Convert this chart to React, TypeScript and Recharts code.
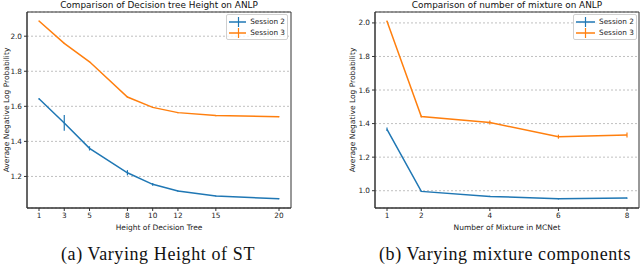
import React from "react";
import {
  LineChart,
  Line,
  XAxis,
  YAxis,
  CartesianGrid,
  ErrorBar,
  ReferenceArea,
  Legend,
  Label,
} from "recharts";

// (a) tree height panel
const heights = [1, 3, 5, 8, 10, 12, 15, 20];
const heightS2 = [1.643, 1.505, 1.36, 1.221, 1.155, 1.117, 1.088, 1.073];
const heightS2Err = [0.004, 0.045, 0.012, 0.015, 0.008, 0.004, 0.003, 0.003];
const heightS3 = [2.087, 1.959, 1.854, 1.653, 1.594, 1.564, 1.547, 1.541];
const heightS3Err = [0.003, 0.003, 0.003, 0.003, 0.003, 0.003, 0.003, 0.003];
const heightYTicks = [1.2, 1.4, 1.6, 1.8, 2.0];

// (b) mixture panel
const mixtures = [1, 2, 4, 6, 8];
const mixS2 = [1.366, 0.996, 0.966, 0.952, 0.956];
const mixS2Err = [0.01, 0.004, 0.004, 0.004, 0.004];
const mixS3 = [2.01, 1.442, 1.406, 1.322, 1.332];
const mixS3Err = [0.004, 0.006, 0.012, 0.012, 0.015];
const mixYTicks = [1.0, 1.2, 1.4, 1.6, 1.8, 2.0];

const seriesNames = ["Session 2", "Session 3"];

const BLUE = "#1f77b4";
const ORANGE = "#ff7f0e";
const SPINE = "#333";
const FONT = "'DejaVu Sans', sans-serif";
const SERIF = "'Liberation Serif', serif";

const heightData = heights.map((x, i) => ({
  x,
  s2: heightS2[i],
  e2: heightS2Err[i],
  s3: heightS3[i],
  e3: heightS3Err[i],
}));

const mixData = mixtures.map((x, i) => ({
  x,
  s2: mixS2[i],
  e2: mixS2Err[i],
  s3: mixS3[i],
  e3: mixS3Err[i],
}));

const LegendBox = () => (
  <div
    style={{
      border: "1px solid #d0d0d0",
      borderRadius: 2,
      background: "rgba(255,255,255,0.8)",
      padding: "1px 2px 1px 2px",
      fontFamily: FONT,
      fontSize: 7.3,
      color: "#222",
    }}
  >
    {seriesNames.map((name, i) => {
      const c = i === 0 ? BLUE : ORANGE;
      return (
        <div key={name} style={{ display: "flex", alignItems: "center", height: 11 }}>
          <svg width={19} height={10}>
            <line x1={0} y1={5} x2={19} y2={5} stroke={c} strokeWidth={1.5} />
            <line x1={9.5} y1={0} x2={9.5} y2={10} stroke={c} strokeWidth={1.2} />
          </svg>
          <span style={{ marginLeft: 4, whiteSpace: "nowrap" }}>{name}</span>
        </div>
      );
    })}
  </div>
);

type PanelProps = {
  data: any[];
  xDomain: [number, number];
  xTicks: number[];
  yDomain: [number, number];
  yTicks: number[];
  xLabel: string;
  marginLeft: number;
  marginRight: number;
  yWidth: number;
  yLabelX: number;
  legendLeft: number;
  legendWidth: number;
};

const Panel = (p: PanelProps) => {
  const tick = { fontSize: 7.3, fill: "#222", fontFamily: FONT };
  return (
    <LineChart
      width={320}
      height={264}
      data={p.data}
      margin={{ top: 12, right: p.marginRight, bottom: 26, left: p.marginLeft }}
    >
      <CartesianGrid vertical={false} stroke="#b0b0b0" strokeDasharray="2 2" strokeWidth={0.8} />
      <XAxis
        dataKey="x"
        type="number"
        domain={p.xDomain}
        ticks={p.xTicks}
        interval={0}
        allowDataOverflow
        tickSize={3}
        tick={tick}
        stroke={SPINE}
        height={30}
      >
        <Label
          value={p.xLabel}
          position="insideBottom"
          offset={8.5}
          style={{ fontSize: 7.5, fill: "#222", fontFamily: FONT }}
        />
      </XAxis>
      <YAxis
        type="number"
        domain={p.yDomain}
        ticks={p.yTicks}
        interval={0}
        allowDataOverflow
        tickSize={3}
        tick={tick}
        stroke={SPINE}
        width={p.yWidth}
        tickFormatter={(v: number) => v.toFixed(1)}
      >
        <Label
          content={(props: any) => {
            const vb = props.viewBox || {};
            const cy = vb.y + vb.height / 2;
            return (
              <text
                x={p.yLabelX}
                y={cy}
                transform={`rotate(-90 ${p.yLabelX} ${cy})`}
                textAnchor="middle"
                fontSize={7.5}
                fill="#222"
                fontFamily={FONT}
              >
                Average Negative Log Probability
              </text>
            );
          }}
        />
      </YAxis>
      <ReferenceArea
        x1={p.xDomain[0]}
        x2={p.xDomain[1]}
        y1={p.yDomain[0]}
        y2={p.yDomain[1]}
        fill="none"
        stroke={SPINE}
        strokeWidth={1}
        ifOverflow="visible"
      />
      <Line
        type="linear"
        dataKey="s2"
        name={seriesNames[0]}
        stroke={BLUE}
        strokeWidth={1.5}
        dot={false}
        isAnimationActive={false}
      >
        <ErrorBar dataKey="e2" direction="y" width={0} stroke={BLUE} strokeWidth={1.2} />
      </Line>
      <Line
        type="linear"
        dataKey="s3"
        name={seriesNames[1]}
        stroke={ORANGE}
        strokeWidth={1.5}
        dot={false}
        isAnimationActive={false}
      >
        <ErrorBar dataKey="e3" direction="y" width={0} stroke={ORANGE} strokeWidth={1.2} />
      </Line>
      <Legend
        layout="horizontal"
        verticalAlign="middle"
        align="center"
        wrapperStyle={{ left: p.legendLeft, top: 14, width: p.legendWidth, height: "auto" }}
        content={() => <LegendBox />}
      />
    </LineChart>
  );
};

const textDiv = (
  text: string,
  left: number,
  width: number,
  top: number,
  size: number,
  family: string,
  spacing = 0
) => (
  <div
    style={{
      position: "absolute",
      left,
      top,
      width,
      textAlign: "center",
      fontSize: size,
      lineHeight: `${size + 2}px`,
      fontFamily: family,
      letterSpacing: spacing,
      color: "#111",
      whiteSpace: "nowrap",
    }}
  >
    {text}
  </div>
);

export default function App() {
  return (
    <div
      style={{
        position: "absolute",
        left: 0,
        top: 0,
        width: 640,
        height: 264,
        background: "#fff",
        overflow: "hidden",
      }}
    >
      <div style={{ position: "absolute", left: 0, top: 0 }}>
        <Panel
          data={heightData}
          xDomain={[0.05, 20.95]}
          xTicks={heights}
          yDomain={[1.02, 2.138]}
          yTicks={heightYTicks}
          xLabel="Height of Decision Tree"
          marginLeft={0}
          marginRight={29}
          yWidth={27}
          yLabelX={8.5}
          legendLeft={226}
          legendWidth={62}
        />
      </div>
      <div style={{ position: "absolute", left: 320, top: 0 }}>
        <Panel
          data={mixData}
          xDomain={[0.65, 8.35]}
          xTicks={mixtures}
          yDomain={[0.897, 2.065]}
          yTicks={mixYTicks}
          xLabel="Number of Mixture in MCNet"
          marginLeft={25}
          marginRight={1}
          yWidth={30}
          yLabelX={34.5}
          legendLeft={253}
          legendWidth={64}
        />
      </div>
      {textDiv("Comparison of Decision tree Height on ANLP", 27, 264, -0.5, 8.9, FONT)}
      {textDiv("Comparison of number of mixture on ANLP", 375, 264, -0.5, 8.9, FONT)}
      {textDiv("(a) Varying Height of ST", 38, 240, 244, 18, SERIF, 0.6)}
      {textDiv("(b) Varying mixture components", 365, 280, 244, 18, SERIF, 0.6)}
    </div>
  );
}
